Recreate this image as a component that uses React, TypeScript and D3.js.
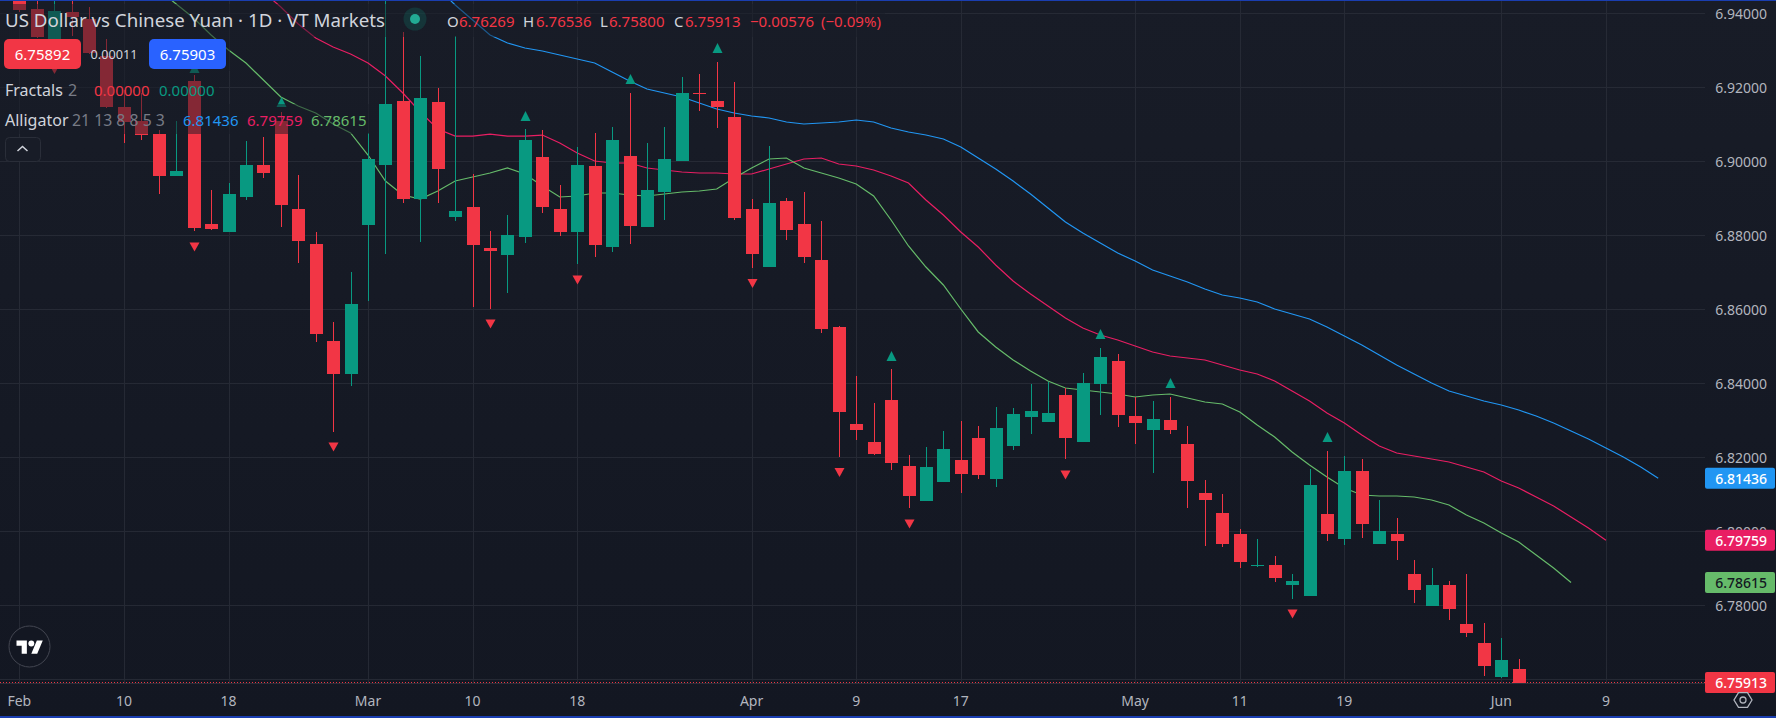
import React from 'react';
import * as d3 from 'd3';

const WIDTH = 1776;
const HEIGHT = 718;
const PLOT_RIGHT = 1705;
const PLOT_BOTTOM = 683;
const FONT = '"Noto Sans", sans-serif';

const UP = '#089981';
const DOWN = '#f23645';
const JAW_COLOR = '#2196f3';
const TEETH_COLOR = '#e91e63';
const LIPS_COLOR = '#66bb6a';

// daily candles
const opens = [
  6.94332, 6.94116, 6.93278, 6.94035, 6.93845, 6.92845, 6.91467, 6.91089, 6.90737, 6.89602,
  6.92170, 6.88305, 6.88089, 6.89035, 6.89900, 6.91089, 6.88710, 6.87764, 6.85143, 6.84251,
  6.88278, 6.89900, 6.91629, 6.88981, 6.91602, 6.88494, 6.88764, 6.87656, 6.87467, 6.87954,
  6.90116, 6.88710, 6.88089, 6.89873, 6.87683, 6.90143, 6.88224, 6.89170, 6.90008, 6.91846,
  6.91629, 6.91197, 6.88710, 6.87143, 6.88927, 6.88305, 6.87332, 6.85521, 6.82900, 6.82413,
  6.83548, 6.81765, 6.80819, 6.81332, 6.81927, 6.82521, 6.81413, 6.82305, 6.83089, 6.82954,
  6.83683, 6.82413, 6.83981, 6.84603, 6.83116, 6.82738, 6.83008, 6.82359, 6.81035, 6.80494,
  6.79927, 6.79062, 6.79089, 6.78549, 6.78251, 6.80467, 6.79792, 6.81630, 6.79656, 6.79927,
  6.78846, 6.77981, 6.78549, 6.77494, 6.76981, 6.76062, 6.76269,
];
const highs = [
  6.94494, 6.94521, 6.94521, 6.94467, 6.94170, 6.93305, 6.91927, 6.91846, 6.90845, 6.91089,
  6.92332, 6.89224, 6.89413, 6.90548, 6.90656, 6.91332, 6.89629, 6.88089, 6.85656, 6.87008,
  6.90764, 6.94494, 6.93494, 6.92845, 6.91981, 6.93386, 6.89656, 6.88115, 6.88548, 6.90873,
  6.90845, 6.89359, 6.90386, 6.90764, 6.90927, 6.91846, 6.90494, 6.90927, 6.92278, 6.92359,
  6.92683, 6.92143, 6.88981, 6.90413, 6.89008, 6.89170, 6.88386, 6.85548, 6.84197, 6.83467,
  6.84386, 6.82062, 6.82278, 6.82711, 6.82981, 6.82846, 6.83359, 6.83332, 6.83981, 6.84035,
  6.83873, 6.84278, 6.84954, 6.84792, 6.83629, 6.83521, 6.83629, 6.82846, 6.81386, 6.81008,
  6.80062, 6.79792, 6.79332, 6.78846, 6.81684, 6.82170, 6.82035, 6.81954, 6.80846, 6.80359,
  6.79224, 6.79008, 6.78657, 6.78846, 6.77521, 6.77116, 6.76536,
];
const lows = [
  6.94035, 6.93332, 6.92954, 6.93386, 6.92900, 6.91440, 6.90494, 6.90575, 6.89116, 6.89602,
  6.88115, 6.88143, 6.88089, 6.88954, 6.89548, 6.88224, 6.87251, 6.85116, 6.82683, 6.83927,
  6.86224, 6.87494, 6.88873, 6.87819, 6.88873, 6.88386, 6.86062, 6.86008, 6.86440, 6.87792,
  6.88602, 6.87981, 6.87224, 6.87413, 6.87548, 6.87764, 6.88224, 6.88413, 6.90008, 6.91359,
  6.90900, 6.88413, 6.87116, 6.87143, 6.87873, 6.87251, 6.85359, 6.82008, 6.82467, 6.82062,
  6.81656, 6.80629, 6.80819, 6.81332, 6.81035, 6.81413, 6.81197, 6.82197, 6.82629, 6.82954,
  6.81954, 6.82413, 6.83143, 6.82819, 6.82359, 6.81575, 6.82629, 6.80629, 6.79602, 6.79575,
  6.79008, 6.79035, 6.78630, 6.78170, 6.78251, 6.79738, 6.79630, 6.79819, 6.79656, 6.79224,
  6.78062, 6.77981, 6.77603, 6.77143, 6.76089, 6.76035, 6.75800,
];
const closes = [
  6.94089, 6.93359, 6.94062, 6.93900, 6.92927, 6.91467, 6.91062, 6.90710, 6.89602, 6.89737,
  6.88197, 6.88170, 6.89116, 6.89900, 6.89683, 6.88818, 6.87846, 6.85332, 6.84251, 6.86143,
  6.90062, 6.91548, 6.88981, 6.91710, 6.89791, 6.88656, 6.87737, 6.87575, 6.88008, 6.90575,
  6.88764, 6.88089, 6.89900, 6.87737, 6.90575, 6.88251, 6.89224, 6.90062, 6.91846, 6.91819,
  6.91467, 6.88467, 6.87494, 6.88873, 6.88143, 6.87413, 6.85467, 6.83224, 6.82738, 6.82089,
  6.81846, 6.80954, 6.81738, 6.82224, 6.81548, 6.81521, 6.82792, 6.83170, 6.83251, 6.83197,
  6.82521, 6.84008, 6.84711, 6.83143, 6.82927, 6.83035, 6.82738, 6.81359, 6.80846, 6.79656,
  6.79170, 6.79089, 6.78738, 6.78657, 6.81251, 6.79927, 6.81630, 6.80197, 6.80008, 6.79738,
  6.78413, 6.78549, 6.77900, 6.77251, 6.76359, 6.76521, 6.75913,
];

// alligator lines, first value sits on the bar index given by *Start
const jawStart = 24;
const jawValues = [
  6.94683, 6.94224, 6.93818, 6.93413, 6.93197, 6.93062, 6.92981, 6.92873, 6.92764, 6.92656,
  6.92413, 6.92170, 6.91954, 6.91846, 6.91737, 6.91575, 6.91413, 6.91305, 6.91224, 6.91170,
  6.91062, 6.91008, 6.91035, 6.91062, 6.91116, 6.91062, 6.90900, 6.90792, 6.90710, 6.90603,
  6.90386, 6.90089, 6.89792, 6.89467, 6.89116, 6.88738, 6.88359, 6.88062, 6.87792, 6.87521,
  6.87305, 6.87062, 6.86900, 6.86738, 6.86548, 6.86387, 6.86305, 6.86197, 6.86008, 6.85873,
  6.85738, 6.85521, 6.85278, 6.85035, 6.84765, 6.84494, 6.84251, 6.84008, 6.83792, 6.83657,
  6.83521, 6.83413, 6.83278, 6.83116, 6.82927, 6.82711, 6.82494, 6.82251, 6.82008, 6.81738,
  6.81436,
];
const teethStart = 14;
const teethValues = [
  6.94575, 6.94170, 6.93710, 6.93332, 6.93089, 6.92900, 6.92656, 6.92305, 6.91846, 6.91332,
  6.90873, 6.90683, 6.90683, 6.90737, 6.90683, 6.90683, 6.90710, 6.90494, 6.90224, 6.90008,
  6.89954, 6.89954, 6.89819, 6.89765, 6.89711, 6.89684, 6.89684, 6.89657, 6.89657, 6.89792,
  6.89927, 6.90062, 6.90089, 6.89927, 6.89873, 6.89765, 6.89602, 6.89413, 6.88954, 6.88548,
  6.88089, 6.87684, 6.87197, 6.86765, 6.86413, 6.86089, 6.85765, 6.85494, 6.85305, 6.85170,
  6.85008, 6.84846, 6.84738, 6.84684, 6.84630, 6.84494, 6.84359, 6.84251, 6.84062, 6.83792,
  6.83521, 6.83197, 6.82927, 6.82603, 6.82305, 6.82116, 6.82035, 6.81954, 6.81873, 6.81738,
  6.81603, 6.81359, 6.81170, 6.80927, 6.80684, 6.80387, 6.80089, 6.79759,
];
const lipsStart = 8;
const lipsValues = [
  6.94629, 6.94251, 6.93873, 6.93413, 6.93008, 6.92656, 6.92197, 6.91737, 6.91494, 6.91305,
  6.91008, 6.90765, 6.90170, 6.89467, 6.89089, 6.88981, 6.89197, 6.89467, 6.89575, 6.89683,
  6.89819, 6.89657, 6.89332, 6.89035, 6.89062, 6.89143, 6.89143, 6.89089, 6.89062, 6.89116,
  6.89170, 6.89197, 6.89251, 6.89548, 6.89819, 6.90062, 6.90089, 6.89819, 6.89683, 6.89548,
  6.89386, 6.89062, 6.88413, 6.87711, 6.87143, 6.86657, 6.86008, 6.85387, 6.84981, 6.84630,
  6.84332, 6.84062, 6.83873, 6.83819, 6.83765, 6.83711, 6.83630, 6.83684, 6.83711, 6.83603,
  6.83495, 6.83441, 6.83224, 6.82873, 6.82549, 6.82143, 6.81792, 6.81468, 6.81170, 6.80981,
  6.80954, 6.80954, 6.80927, 6.80846, 6.80711, 6.80440, 6.80224, 6.79954, 6.79711, 6.79359,
  6.79008, 6.78615,
];

// fractal markers: bar index and price at the middle of the triangle
const fractalUpBars = [10, 15, 29, 35, 40, 50, 62, 66, 75];
const fractalUpPrices = [6.92521, 6.91602, 6.91224, 6.92224, 6.93062, 6.84738, 6.85332, 6.84008, 6.82548];
const fractalDownBars = [2, 10, 18, 27, 32, 42, 47, 51, 60, 73];
const fractalDownPrices = [6.92481, 6.87683, 6.82278, 6.85603, 6.86792, 6.86697, 6.81589, 6.80197, 6.81521, 6.77765];

const priceTicks = [6.94, 6.92, 6.9, 6.88, 6.86, 6.84, 6.82, 6.8, 6.78, 6.76];
const timeTickBars = [0, 6, 12, 20, 26, 32, 42, 48, 54, 64, 70, 76, 85, 91];
const timeTickLabels = ['Feb', '10', '18', 'Mar', '10', '18', 'Apr', '9', '17', 'May', '11', '19', 'Jun', '9'];

const lastPrice = 6.75913;
const priceTags = [
  { value: 6.81436, fill: JAW_COLOR, text: '#ffffff' },
  { value: 6.79759, fill: TEETH_COLOR, text: '#ffffff' },
  { value: 6.78615, fill: LIPS_COLOR, text: '#131722' },
  { value: lastPrice, fill: DOWN, text: '#ffffff' },
];

const x = d3.scaleLinear().domain([0, 85]).range([19.3, 1501.3]);
const y = d3.scaleLinear().domain([6.76, 6.94]).range([679.3, 13.3]);
const bx = (i: number) => Math.round(x(i));
const py = (p: number) => Math.round(y(p));

const toPoints = (values: number[], start: number) => values.map((v, k) => [start + k, v] as [number, number]);
const linePath = d3.line<[number, number]>().x((d) => x(d[0])).y((d) => y(d[1]));

const Label: React.FC<{ x: number; y: number; fill: string; size?: number; anchor?: string; weight?: number; fit?: number; children: React.ReactNode }> = ({
  x: tx, y: ty, fill, size = 15, anchor = 'start', weight = 400, fit, children,
}) => (
  <text
    x={tx}
    y={ty}
    fill={fill}
    fontSize={size}
    fontWeight={weight}
    textAnchor={anchor}
    dominantBaseline="central"
    fontFamily={FONT}
    textLength={fit}
    lengthAdjust={fit ? 'spacingAndGlyphs' : undefined}
  >
    {children}
  </text>
);

const hexagon = d3.range(6).map((k) => {
  const a = (k * Math.PI) / 3;
  return [Math.cos(a) * 9, Math.sin(a) * 8.6] as [number, number];
});

export default function App() {
  return (
    <svg width={WIDTH} height={HEIGHT} style={{ position: 'absolute', left: 0, top: 0, display: 'block' }}>
      <defs>
        <linearGradient id="bg" x1="0" y1="0" x2="0" y2="1">
          <stop offset="0" stopColor="#181c27" />
          <stop offset="1" stopColor="#131722" />
        </linearGradient>
        <clipPath id="plot">
          <rect x={0} y={1} width={PLOT_RIGHT} height={PLOT_BOTTOM - 1} />
        </clipPath>
      </defs>
      <rect width={WIDTH} height={HEIGHT} fill="url(#bg)" />

      {/* grid */}
      <g shapeRendering="crispEdges" fill="#2a2e39" opacity={0.8}>
        {priceTicks.map((p) => (
          <rect key={p} x={0} y={py(p)} width={PLOT_RIGHT} height={1} />
        ))}
        {timeTickBars.map((i) => (
          <rect key={i} x={bx(i)} y={1} width={1} height={PLOT_BOTTOM - 1} />
        ))}
      </g>

      <g clipPath="url(#plot)">
        {/* alligator sits under the candles */}
        <g fill="none" strokeWidth={1.2}>
          <path d={linePath(toPoints(jawValues, jawStart)) || ''} stroke={JAW_COLOR} />
          <path d={linePath(toPoints(teethValues, teethStart)) || ''} stroke={TEETH_COLOR} />
          <path d={linePath(toPoints(lipsValues, lipsStart)) || ''} stroke={LIPS_COLOR} />
        </g>

        <g shapeRendering="crispEdges">
          {opens.map((o, i) => {
            const c = closes[i];
            const color = c > o ? UP : DOWN;
            const top = py(Math.max(o, c));
            const bottom = py(Math.min(o, c));
            const hi = py(highs[i]);
            const lo = py(lows[i]);
            return (
              <g key={i} fill={color}>
                <rect x={bx(i)} y={hi} width={1} height={Math.max(lo - hi, 1)} />
                <rect x={bx(i) - 6} y={top} width={13} height={Math.max(bottom - top, 1)} />
              </g>
            );
          })}
        </g>

        {fractalUpBars.map((b, k) => (
          <path key={b} d="M0,-5L5,5L-5,5Z" fill={UP} transform={`translate(${bx(b) + 0.5},${y(fractalUpPrices[k])})`} />
        ))}
        {fractalDownBars.map((b, k) => (
          <path key={b} d="M-5,-4.5L5,-4.5L0,4.5Z" fill={DOWN} transform={`translate(${bx(b) + 0.5},${y(fractalDownPrices[k])})`} />
        ))}

        <line x1={0} x2={PLOT_RIGHT} y1={y(lastPrice)} y2={y(lastPrice)} stroke={DOWN} strokeWidth={1} strokeDasharray="1 2" />
      </g>

      {/* time axis */}
      <rect x={0} y={PLOT_BOTTOM} width={PLOT_RIGHT} height={1} fill="#2a2e39" shapeRendering="crispEdges" />
      {timeTickBars.map((i, k) => (
        <Label key={i} x={x(i)} y={700} fill="#b2b5be" size={14} anchor="middle">{timeTickLabels[k]}</Label>
      ))}

      {/* price axis */}
      {priceTicks.slice(0, -1).map((p) => (
        <Label key={p} x={1767} y={y(p)} fill="#b2b5be" size={14} anchor="end">{p.toFixed(5)}</Label>
      ))}
      {priceTags.map((t) => (
        <g key={t.value}>
          <rect x={1705} y={y(t.value) - 10.5} width={70} height={21} rx={2} fill={t.fill} />
          <Label x={1767} y={y(t.value)} fill={t.text} size={14} anchor="end" weight={500}>{t.value.toFixed(5)}</Label>
        </g>
      ))}
      <g transform="translate(1743,700)" fill="none" stroke="#b2b5be" strokeWidth={1.3}>
        <path d={(d3.line().curve(d3.curveLinearClosed)(hexagon)) || ''} />
        <circle r={3} />
      </g>

      {/* legend, each row washes out what lies behind it */}
      <g fill="#181c27" opacity={0.5}>
        <rect x={0} y={4} width={885} height={33} />
        <rect x={0} y={37} width={230} height={34} />
        <rect x={0} y={71} width={219} height={33} />
        <rect x={0} y={104} width={372} height={30} />
      </g>
      <Label x={5} y={20} fill="#d1d4dc" size={18} fit={380}>US Dollar vs Chinese Yuan · 1D · VT Markets</Label>
      <circle cx={415} cy={19} r={11.5} fill="#089981" opacity={0.2} />
      <circle cx={415} cy={19} r={5} fill="#22ab94" />
      <Label x={447} y={21} fill="#d1d4dc">O</Label>
      <Label x={459} y={21} fill={DOWN}>6.76269</Label>
      <Label x={523} y={21} fill="#d1d4dc">H</Label>
      <Label x={536} y={21} fill={DOWN}>6.76536</Label>
      <Label x={600} y={21} fill="#d1d4dc">L</Label>
      <Label x={609} y={21} fill={DOWN}>6.75800</Label>
      <Label x={674} y={21} fill="#d1d4dc">C</Label>
      <Label x={685} y={21} fill={DOWN}>6.75913</Label>
      <Label x={750} y={21} fill={DOWN}>−0.00576</Label>
      <Label x={821} y={21} fill={DOWN} fit={60}>(−0.09%)</Label>

      <rect x={4} y={39} width={77} height={30} rx={5} fill={DOWN} />
      <Label x={42.5} y={54} fill="#ffffff" anchor="middle">6.75892</Label>
      <Label x={114} y={54} fill="#d1d4dc" size={12.7} anchor="middle">0.00011</Label>
      <rect x={149} y={39} width={77} height={30} rx={5} fill="#2962ff" />
      <Label x={187.5} y={54} fill="#ffffff" anchor="middle">6.75903</Label>

      <Label x={5} y={89.5} fill="#d1d4dc" size={16}>Fractals</Label>
      <Label x={68} y={89.5} fill="#787b86" size={16}>2</Label>
      <Label x={94} y={89.5} fill={DOWN}>0.00000</Label>
      <Label x={159} y={89.5} fill={UP}>0.00000</Label>

      <Label x={5} y={120} fill="#d1d4dc" size={16}>Alligator</Label>
      <Label x={72} y={120} fill="#787b86" size={15.8}>21 13 8 8 5 3</Label>
      <Label x={183} y={120} fill={JAW_COLOR}>6.81436</Label>
      <Label x={247} y={120} fill={TEETH_COLOR}>6.79759</Label>
      <Label x={311} y={120} fill={LIPS_COLOR}>6.78615</Label>

      <rect x={5.5} y={137.5} width={35} height={24} rx={4} fill="#181c27" stroke="#2a2e39" />
      <path d="M17.5,151L22.5,146.5L27.5,151" fill="none" stroke="#d1d4dc" strokeWidth={1.5} />

      {/* logo */}
      <circle cx={29.5} cy={646.5} r={20.5} fill="#131722" stroke="#434651" strokeWidth={1} />
      <g transform="translate(16.5,637.5) scale(0.74)" fill="#ffffff">
        <path d="M14 22H7V11H0V4h14v18zM28 22h-8l7.5-18h8L28 22z" />
        <circle cx={20} cy={8} r={4} />
      </g>

      {/* window edge */}
      <rect x={0} y={0} width={WIDTH} height={1} fill="#1a3eb0" shapeRendering="crispEdges" />
      <rect x={0} y={716} width={WIDTH} height={2} fill="#1a3eb0" shapeRendering="crispEdges" />
    </svg>
  );
}
